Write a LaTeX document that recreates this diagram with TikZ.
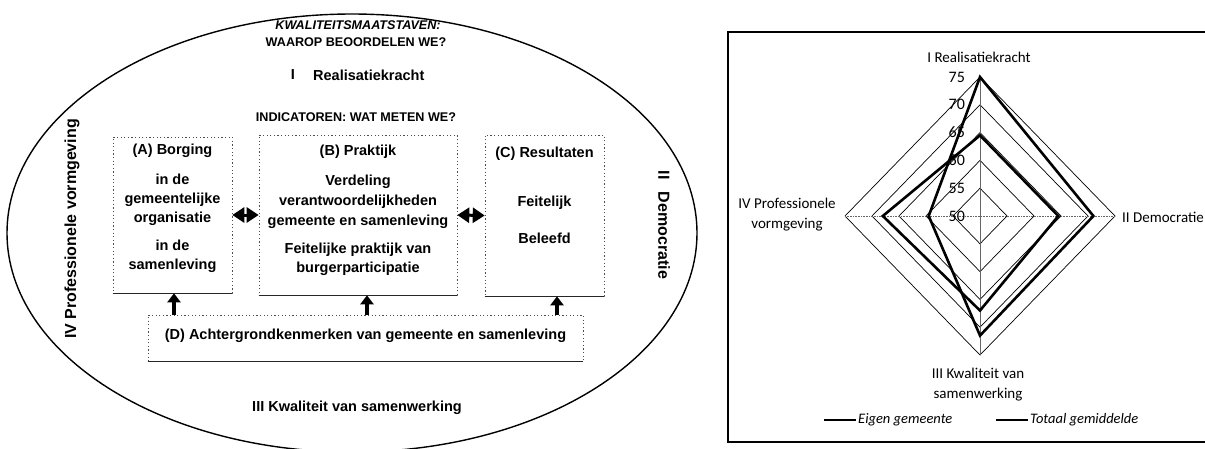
\documentclass[tikz,border=0pt]{standalone}
\usepackage{fontspec}
\setmainfont{Liberation Sans}
\newfontfamily\chartfont{Carlito}
\usepackage{tikz}
\usetikzlibrary{arrows.meta,positioning}

\begin{document}
\begin{tikzpicture}[x=1pt,y=-1pt,
  every node/.style = {inner sep=0pt, align=center, font=\bfseries\fontsize{14.5}{19}\selectfont},
  caps/.style = {font=\bfseries\fontsize{12.6}{15}\selectfont},
  side/.style = {font=\bfseries\fontsize{16}{19}\selectfont},
  box/.style = {draw=black!70, dash pattern=on 1.2pt off 2.4pt, line width=0.6pt, minimum width=#1},
  base edge/.style = {line width=1.6pt, black!85},
  dbl arrow/.style = {line width=3pt, {Triangle[length=12pt,width=15pt]}-{Triangle[length=12pt,width=15pt]}},
  up arrow/.style = {line width=3.8pt, -{Triangle[length=9pt,width=13pt]}},
  ring/.style = {line width=0.7pt},
  serie/.style = {line width=2.6pt, line join=miter},
  chart/.style = {font=\chartfont\fontsize{15}{20}\selectfont},
  legend/.style = {font=\chartfont\itshape\fontsize{14.5}{18}\selectfont}]
\useasboundingbox (0,0) rectangle (1205,448);

\draw[line width=1.4pt] (352,233) ellipse [x radius=345pt, y radius=219pt];

\node[caps, font=\bfseries\itshape\fontsize{12.6}{15}\selectfont] (kwal) at (358,25) {KWALITEITSMAATSTAVEN:};
\node[caps] (waarop) at (356,42) {WAAROP BEOORDELEN WE?};
\node (dimI) at (293,75) {I};
\node[anchor=west] (real) at (313,75) {Realisatiekracht};
\node[caps] (indic) at (356,117) {INDICATOREN: WAT METEN WE?};

\node[box=119pt, minimum height=156pt] (A) at (172.5,215) {};
\node[box=198pt, minimum height=160pt] (B) at (358,215) {};
\node[box=119pt, minimum height=161pt] (C) at (544.5,215.5) {};
\node[box=435pt, minimum height=46pt] (D) at (365.5,338) {};
\foreach \b in {A,B,C,D}
  { \draw[base edge] (\b.south west) -- (\b.south east); }

\node (Ahead) at (172.5,151) {(A) Borging};
  \node (A1) at (172.5,200) {in de\\gemeentelijke\\organisatie};
  \node (A2) at (172.5,256) {in de\\samenleving};
\node (Bhead) at (358,152) {(B) Praktijk};
  \node[font=\bfseries\fontsize{14.5}{20}\selectfont] (B1) at (358,202) {Verdeling\\verantwoordelijkheden\\gemeente en samenleving};
  \node (B2) at (358,259) {Feitelijke praktijk van\\burgerparticipatie};
\node (Chead) at (544.5,154) {(C) Resultaten};
  \node (C1) at (544.5,203) {Feitelijk};
  \node (C2) at (544.5,238) {Beleefd};
\node (Dtext) at (365.5,336) {(D) Achtergrondkenmerken van gemeente en samenleving};

\draw[dbl arrow] (A.east) -- (B.west);
\draw[dbl arrow] (B.east) -- (C.west);
\foreach \b/\x in {A/174,B/367,C/557}
  { \coordinate (d\b) at (\x,315);
    \draw[up arrow] (d\b) -- (d\b |- \b.south); }

\node (dimIII) at (357,408) {III Kwaliteit van samenwerking};
\node[side, rotate=90] (dimIV) at (72,229) {IV Professionele vormgeving};
\node[side, rotate=-90] (dimII) at (664,225) {II\hspace{12pt}Democratie};

\draw[line width=1.6pt] (1212,32) -- (728,32) -- (728,442) -- (1212,442);
\begin{scope}[shift={(980,216)}, x=135pt, y=139pt]
  \foreach \k in {1,...,5}
    { \draw[ring] (0,\k/5) -- (\k/5,0) -- (0,-\k/5) -- (-\k/5,0) -- cycle; }
  \draw[black!60, line width=0.5pt] (0,-1) -- (0,1);
  \draw[black!60, line width=0.6pt, densely dotted] (-1,0) -- (1,0);
  \draw[serie] (0,1) -- (0.84,0) -- (0,-0.86) -- (-0.38,0) -- cycle;
  \draw[serie] (0,0.58) -- (0.58,0) -- (0,-0.68) -- (-0.72,0) -- cycle;
  \foreach \k/\v in {0/50,1/55,2/60,3/65,4/70,5/75}
    { \node[chart, font=\chartfont\fontsize{16}{18}\selectfont, anchor=east] (t\v) at (-0.11,\k/5) {\v}; }
\end{scope}

\node[chart] (rI) at (979,57) {I Realisatiekracht};
\node[chart, anchor=west] (rII) at (1122,217) {II Democratie};
\node[chart] (rIII) at (978,385) {III Kwaliteit van\\samenwerking};
\node[chart] (rIV) at (787,215) {IV Professionele\\vormgeving};

\node[legend, anchor=west] (leg1) at (858,420) {Eigen gemeente};
\node[legend, anchor=west] (leg2) at (1030,420) {Totaal gemiddelde};
\draw[line width=1.6pt] ([xshift=-34pt]leg1.west) -- ([xshift=-2pt]leg1.west);
\draw[line width=2pt] ([xshift=-34pt]leg2.west) -- ([xshift=-2pt]leg2.west);
\end{tikzpicture}
\end{document}
